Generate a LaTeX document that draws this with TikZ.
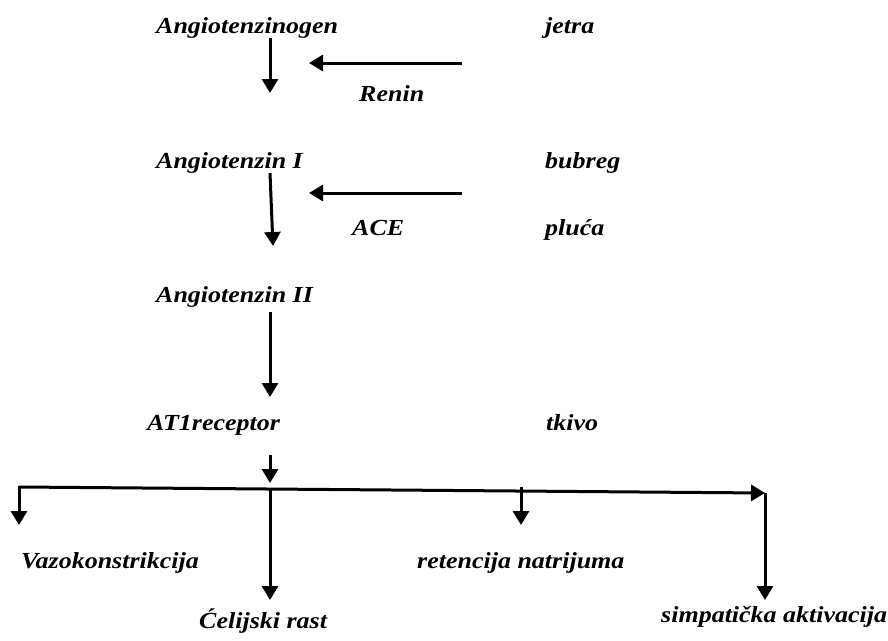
\documentclass[tikz,border=0pt]{standalone}
\usepackage{fontspec}
\setmainfont{Liberation Serif}
\newfontfamily\lblfont[FakeStretch=1.13]{Liberation Serif}
\usetikzlibrary{arrows.meta}
\begin{document}
\begin{tikzpicture}[x=1pt,y=-1pt,
  lbl/.style={anchor=base west,inner sep=0pt,font=\lblfont\fontsize{23}{27}\selectfont\bfseries\itshape},
  arr/.style={line width=3pt,-{Triangle[width=16pt,length=14pt]}}]
\useasboundingbox (0,0) rectangle (888,640);
% labels
\node[lbl] (agen) at (156,33) {Angiotenzinogen};
\node[lbl] (jetra) at (545,33) {jetra};
\node[lbl] (renin) at (359,101) {Renin};
\node[lbl] (a1) at (156,168) {Angiotenzin I};
\node[lbl] (bubreg) at (545,168) {bubreg};
\node[lbl] (ace) at (352,235) {ACE};
\node[lbl] (pluca) at (545,235) {pluća};
\node[lbl] (a2) at (156,302) {Angiotenzin II};
\node[lbl] (at1) at (147,430) {AT1receptor};
\node[lbl] (tkivo) at (546,430) {tkivo};
\node[lbl] (vazo) at (21,568) {Vazokonstrikcija};
\node[lbl] (ret) at (417,568) {retencija natrijuma};
\node[lbl] (cel) at (199,628) {Ćelijski rast};
\node[lbl] (simp) at (661,622) {simpatička aktivacija};
% coordinates
\coordinate (p1s) at (270,38);  \coordinate (p1e) at (270,93);
\coordinate (r1s) at (462,63);  \coordinate (r1e) at (309,63);
\coordinate (p2s) at (270,173); \coordinate (p2e) at (273,246);
\coordinate (r2s) at (462,193); \coordinate (r2e) at (309,193);
\coordinate (p3s) at (270,312); \coordinate (p3e) at (270,397);
\coordinate (p4s) at (270,455); \coordinate (p4e) at (270,483);
\coordinate (hL) at (19,487);   \coordinate (hR) at (765,493);
\coordinate (vL) at (19,525);
\coordinate (mS) at (270,488);  \coordinate (mE) at (270,600);
\coordinate (nS) at (521,487);  \coordinate (nE) at (521,525);
\coordinate (sE) at (765,600);
% connectors
\draw[arr] (p1s) -- (p1e);
\draw[arr] (r1s) -- (r1e);
\draw[arr] (p2s) -- (p2e);
\draw[arr] (r2s) -- (r2e);
\draw[arr] (p3s) -- (p3e);
\draw[arr] (p4s) -- (p4e);
\draw[arr] (hL) -- (hR);
\draw[arr,line cap=rect] (hL) -- (vL);
\draw[arr] (mS) -- (mE);
\draw[arr] (nS) -- (nE);
\draw[arr] (hR) -- (sE);
\end{tikzpicture}
\end{document}
